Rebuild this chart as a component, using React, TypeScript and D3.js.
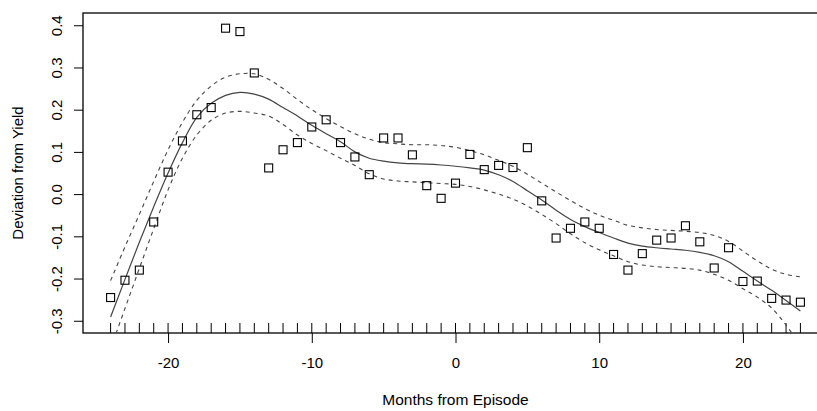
import { useEffect, useRef } from "react"
import * as d3 from "d3"

// months from episode (x of every point / rug tick)
const months = [
	-24, -23, -22, -21, -20, -19, -18, -17, -16, -15, -14, -13, -12, -11, -10, -9, -8, -7, -6, -5, -4, -3, -2, -1, 0,
	1, 2, 3, 4, 5, 6, 7, 8, 9, 10, 11, 12, 13, 14, 15, 16, 17, 18, 19, 20, 21, 22, 23, 24,
]

// observed deviation from yield
const deviation = [
	-0.245, -0.204, -0.18, -0.066, 0.052, 0.126, 0.188, 0.205, 0.393, 0.385, 0.287, 0.062, 0.105, 0.122, 0.159, 0.176,
	0.122, 0.088, 0.046, 0.133, 0.133, 0.093, 0.02, -0.01, 0.026, 0.094, 0.058, 0.068, 0.063, 0.11, -0.016, -0.104,
	-0.081, -0.066, -0.081, -0.143, -0.18, -0.141, -0.109, -0.104, -0.075, -0.113, -0.175, -0.127, -0.207, -0.206,
	-0.247, -0.251, -0.256,
]

// smooth fit and its confidence band
const fit = [
	-0.291, -0.202, -0.114, -0.03, 0.05, 0.122, 0.182, 0.215, 0.234, 0.241, 0.237, 0.225, 0.205, 0.185, 0.163, 0.143,
	0.124, 0.1, 0.085, 0.078, 0.074, 0.072, 0.071, 0.069, 0.066, 0.062, 0.057, 0.046, 0.03, 0.008, -0.014, -0.038,
	-0.06, -0.077, -0.091, -0.104, -0.116, -0.123, -0.127, -0.13, -0.133, -0.138, -0.146, -0.16, -0.183, -0.206,
	-0.228, -0.252, -0.277,
]
const upper = [
	-0.205, -0.125, -0.048, 0.03, 0.105, 0.17, 0.222, 0.256, 0.277, 0.285, 0.285, 0.272, 0.25, 0.224, 0.2, 0.179,
	0.16, 0.143, 0.13, 0.122, 0.119, 0.117, 0.117, 0.115, 0.111, 0.103, 0.093, 0.08, 0.066, 0.047, 0.026, 0.005,
	-0.015, -0.034, -0.05, -0.062, -0.074, -0.08, -0.084, -0.086, -0.088, -0.091, -0.098, -0.112, -0.135, -0.158,
	-0.178, -0.19, -0.196,
]
const lower = [
	-0.366, -0.271, -0.176, -0.082, 0.01, 0.085, 0.14, 0.175, 0.192, 0.196, 0.192, 0.185, 0.165, 0.14, 0.12, 0.103,
	0.085, 0.068, 0.048, 0.036, 0.031, 0.029, 0.027, 0.025, 0.023, 0.018, 0.01, 0.0, -0.012, -0.028, -0.048, -0.07,
	-0.094, -0.115, -0.132, -0.146, -0.16, -0.168, -0.172, -0.174, -0.176, -0.18, -0.19, -0.204, -0.224, -0.244,
	-0.27, -0.31, -0.36,
]

const xTicks = [-20, -10, 0, 10, 20]
const yTicks = [-0.3, -0.2, -0.1, 0.0, 0.1, 0.2, 0.3, 0.4]

const Chart = () => {
	const svgRef = useRef(null)

	useEffect(() => {
		const svg = d3.select(svgRef.current)
		svg.selectAll("*").remove()

		const width = 817
		const height = 411
		// plot box (right side runs past the picture, like the original)
		const left = 83
		const right = 828
		const top = 13
		const bottom = 333
		const font = "'Liberation Sans', Arial, sans-serif"

		svg.attr("width", width).attr("height", height)

		const x = d3.scaleLinear().domain([-25.92, 25.92]).range([left, right])
		const y = d3.scaleLinear().domain([-0.329, 0.429]).range([bottom, top])

		svg.append("defs")
			.append("clipPath")
			.attr("id", "plotclip")
			.append("rect")
			.attr("x", left)
			.attr("y", top)
			.attr("width", right - left)
			.attr("height", bottom - top)

		// box
		svg.append("rect")
			.attr("x", left)
			.attr("y", top)
			.attr("width", right - left)
			.attr("height", bottom - top)
			.attr("fill", "none")
			.attr("stroke", "#000")
			.attr("stroke-width", 1.3)

		// x axis
		const gx = svg.append("g").attr("transform", "translate(0," + bottom + ")")
		gx.call(d3.axisBottom(x).tickValues(xTicks).tickSize(10).tickSizeOuter(0).tickFormat(d3.format("d")))
		gx.select(".domain").remove()
		gx.selectAll("line").attr("stroke", "#000")
		gx.selectAll("text")
			.attr("font-family", font)
			.attr("font-size", 15)
			.attr("fill", "#000")
			.attr("dy", null)
			.attr("y", 35)
			.text((d: any) => (d < 0 ? "-" + Math.abs(d) : String(d)))

		// y axis, labels turned like R
		const gy = svg.append("g").attr("transform", "translate(" + left + ",0)")
		gy.call(d3.axisLeft(y).tickValues(yTicks).tickSize(9).tickSizeOuter(0))
		gy.select(".domain").remove()
		gy.selectAll("line").attr("stroke", "#000")
		gy.selectAll("text").remove()
		gy.selectAll(".tick")
			.append("text")
			.attr("transform", "translate(-21,0) rotate(-90)")
			.attr("text-anchor", "middle")
			.attr("font-family", font)
			.attr("font-size", 15)
			.attr("fill", "#000")
			.text((d: any) => (d < 0 ? "-" : "") + Math.abs(d).toFixed(1))

		// rug of months
		svg.append("g")
			.selectAll("line")
			.data(months)
			.enter()
			.append("line")
			.attr("x1", (d) => x(d))
			.attr("x2", (d) => x(d))
			.attr("y1", bottom)
			.attr("y2", bottom - 10)
			.attr("stroke", "#000")

		// fit + band
		const band = (vals: number[]) =>
			d3
				.line<number>()
				.x((d, i) => x(months[i]))
				.y((d) => y(d))
				.curve(d3.curveCatmullRom.alpha(0.5))(vals)

		const lines = svg.append("g").attr("clip-path", "url(#plotclip)")
		lines.append("path").attr("d", band(fit)).attr("fill", "none").attr("stroke", "#444").attr("stroke-width", 1.2)
		;[upper, lower].forEach((vals) => {
			lines.append("path")
				.attr("d", band(vals))
				.attr("fill", "none")
				.attr("stroke", "#444")
				.attr("stroke-width", 1.1)
				.attr("stroke-dasharray", "4,4")
		})

		// points, open squares
		const s = 8
		svg.append("g")
			.selectAll("rect")
			.data(deviation)
			.enter()
			.append("rect")
			.attr("x", (d, i) => x(months[i]) - s / 2)
			.attr("y", (d) => y(d) - s / 2)
			.attr("width", s)
			.attr("height", s)
			.attr("fill", "none")
			.attr("stroke", "#000")
			.attr("stroke-width", 1.1)

		// axis titles
		svg.append("text")
			.attr("x", (left + right) / 2)
			.attr("y", 405)
			.attr("text-anchor", "middle")
			.attr("font-family", font)
			.attr("font-size", 15.5)
			.text("Months from Episode")

		svg.append("text")
			.attr("transform", "translate(23," + (top + bottom) / 2 + ") rotate(-90)")
			.attr("text-anchor", "middle")
			.attr("font-family", font)
			.attr("font-size", 15)
			.text("Deviation from Yield")
	}, [])

	return <svg ref={svgRef} style={{ position: "absolute", left: 0, top: 0, background: "#fff" }}></svg>
}

export default function App() {
	return <Chart />
}
